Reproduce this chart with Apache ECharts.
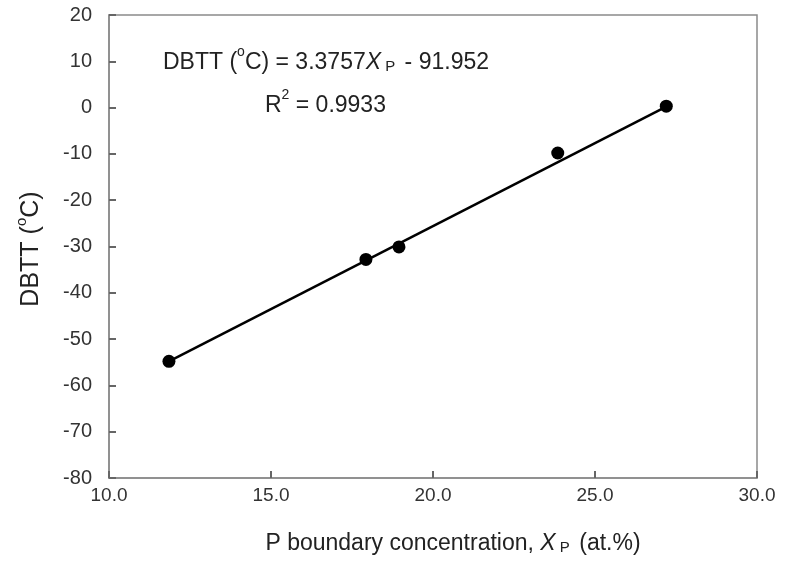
<!DOCTYPE html>
<html>
<head>
<meta charset="utf-8">
<script src="https://cdn.jsdelivr.net/npm/echarts@6/dist/echarts.min.js"></script>
<style>html,body{margin:0;padding:0;background:#fff}#c{width:785px;height:575px}</style>
</head>
<body>
<div id="c"></div>
<script>
// Data
const xPoints = [11.85, 17.93, 18.95, 23.85, 27.2];
const yPoints = [-54.8, -32.8, -30.1, -9.8, 0.3];
// Fitted line endpoints as drawn in the picture
const fitX = [11.85, 27.2];
const fitY = [-54.8, 0.2];
const xTicks = [10, 15, 20, 25, 30];
const yTicks = [20, 10, 0, -10, -20, -30, -40, -50, -60, -70, -80];

const FONT = '"Liberation Sans", Arial, sans-serif';
const chart = echarts.init(document.getElementById('c'), null, {renderer: 'canvas'});
chart.setOption({
  animation: false,
  backgroundColor: '#fff',
  grid: {left: 109, right: 28, top: 15, bottom: 97, show: true, borderColor: '#8a8a8a', borderWidth: 1.5, backgroundColor: 'transparent'},
  xAxis: {
    type: 'value', min: xTicks[0], max: xTicks[xTicks.length - 1], interval: 5,
    axisLine: {show: true, onZero: false, lineStyle: {color: '#8a8a8a', width: 1.5}},
    axisTick: {show: true, inside: true, length: 7, lineStyle: {color: '#666', width: 2}},
    splitLine: {show: false},
    axisLabel: {color: '#333', fontSize: 19, fontFamily: FONT, margin: 8, formatter: v => v.toFixed(1)}
  },
  yAxis: {
    type: 'value', min: yTicks[yTicks.length - 1], max: yTicks[0], interval: 10,
    axisLine: {show: true, onZero: false, lineStyle: {color: '#8a8a8a', width: 1.5}},
    axisTick: {show: true, inside: true, length: 7, lineStyle: {color: '#666', width: 2}},
    splitLine: {show: false},
    axisLabel: {color: '#333', fontSize: 20, fontFamily: FONT, margin: 17}
  },
  series: [
    {
      type: 'line', data: fitX.map((x, i) => [x, fitY[i]]), symbol: 'none',
      lineStyle: {color: '#000', width: 2.5}, z: 2
    },
    {
      type: 'scatter', data: xPoints.map((x, i) => [x, yPoints[i]]), symbol: 'circle', symbolSize: 13,
      itemStyle: {color: '#000', opacity: 1}, z: 3
    }
  ],
  graphic: [
    {
      type: 'text', left: 163, top: 45,
      style: {
        text: '{n|DBTT (}{s|o}{n|C) = 3.3757}{i|X}{sub| P}{n| - 91.952}',
        rich: {
          n: {fontSize: 23, fontFamily: FONT, fill: '#222', verticalAlign: 'bottom', lineHeight: 29},
          s: {fontSize: 14, fontFamily: FONT, fill: '#222', verticalAlign: 'top', lineHeight: 29, padding: [0, 0, 12, 0]},
          i: {fontSize: 23, fontFamily: FONT, fontStyle: 'italic', fill: '#222', verticalAlign: 'bottom', lineHeight: 29},
          sub: {fontSize: 15, fontFamily: FONT, fill: '#222', verticalAlign: 'bottom', lineHeight: 25, padding: [0, 3, 0, 0]}
        }
      }
    },
    {
      type: 'text', left: 265, top: 88,
      style: {
        text: '{n|R}{s|2}{n| = 0.9933}',
        rich: {
          n: {fontSize: 23, fontFamily: FONT, fill: '#222', verticalAlign: 'bottom', lineHeight: 29},
          s: {fontSize: 14, fontFamily: FONT, fill: '#222', verticalAlign: 'top', lineHeight: 29, padding: [0, 0, 12, 0]}
        }
      }
    },
    {
      type: 'text', x: 29, y: 249, rotation: Math.PI / 2,
      style: {
        text: '{n|DBTT (}{s|o}{n|C)}',
        align: 'center', verticalAlign: 'middle',
        rich: {
          n: {fontSize: 25, fontFamily: FONT, fill: '#222', verticalAlign: 'bottom', lineHeight: 30},
          s: {fontSize: 15, fontFamily: FONT, fill: '#222', verticalAlign: 'top', lineHeight: 30, padding: [0, 0, 13, 0]}
        }
      }
    },
    {
      type: 'text', x: 453, y: 541,
      style: {
        text: '{n|P boundary concentration, }{i|X}{sub| P}{n| (at.%)}',
        align: 'center', verticalAlign: 'middle',
        rich: {
          n: {fontSize: 23, fontFamily: FONT, fill: '#222', verticalAlign: 'bottom', lineHeight: 29},
          i: {fontSize: 23, fontFamily: FONT, fontStyle: 'italic', fill: '#222', verticalAlign: 'bottom', lineHeight: 29},
          sub: {fontSize: 15, fontFamily: FONT, fill: '#222', verticalAlign: 'bottom', lineHeight: 25, padding: [0, 3, 0, 0]}
        }
      }
    }
  ]
});
</script>
</body>
</html>
